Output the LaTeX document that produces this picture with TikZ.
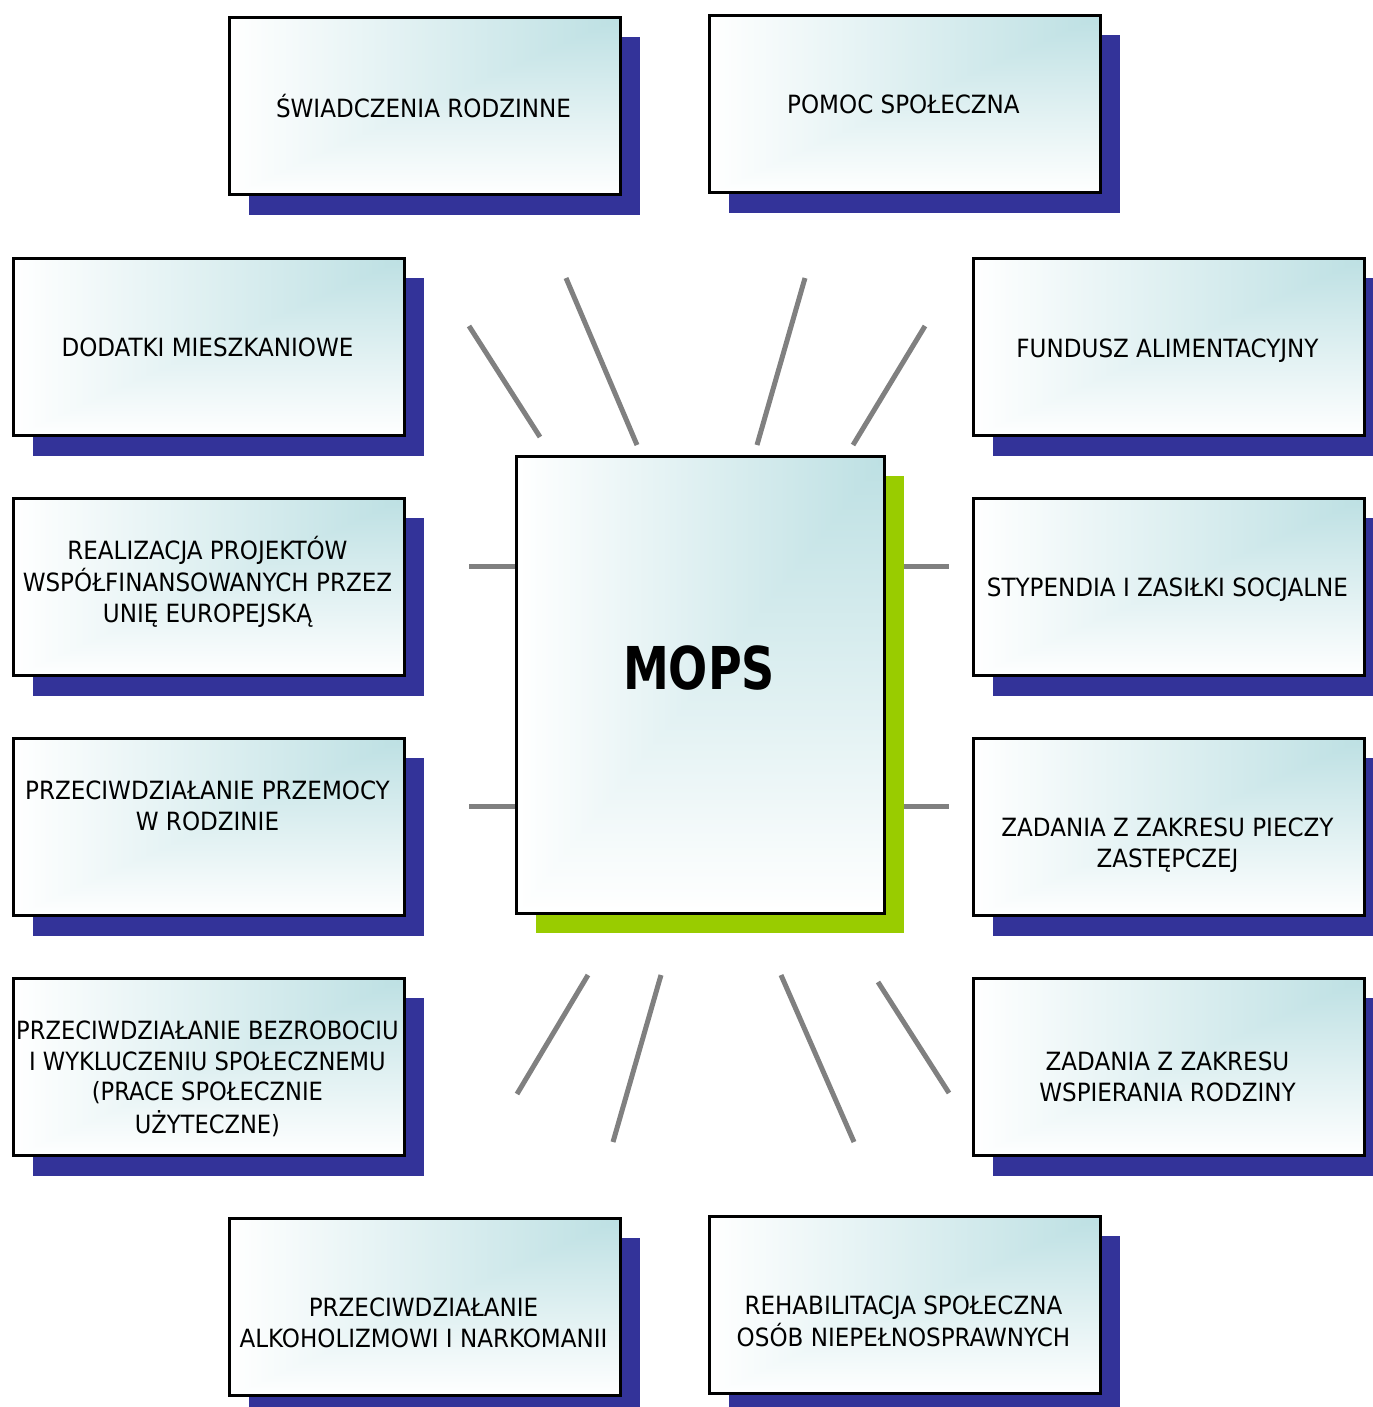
\documentclass[tikz,border=0pt]{standalone}
\usepackage{fontspec}
\usepackage{graphicx}
\setmainfont{DejaVu Sans Condensed}[FakeStretch=1.02]
\usetikzlibrary{shadows}
\definecolor{shblue}{HTML}{333399}
\definecolor{shgreen}{HTML}{99CC00}
\definecolor{spokegray}{HTML}{808080}
\pgfdeclarefunctionalshading{corner}{\pgfpoint{0bp}{0bp}}{\pgfpoint{100bp}{100bp}}{}{
  75 exch sub 50 div
  exch 75 exch sub 50 div
  2 copy lt {exch} if pop
  dup 0 lt {pop 0} if
  dup 1 gt {pop 1} if
  dup 0.259 mul 0.741 add
  exch dup 0.122 mul 0.878 add
  exch 0.110 mul 0.890 add
}
\newcommand\lineblock[1]{\begin{tabular}[t]{@{}c@{}}#1\end{tabular}}
\tikzset{
  box/.style={draw=black, line width=1.6pt, shade, shading=corner, anchor=north west,
    inner sep=0pt, minimum width=7.82cm, minimum height=3.55cm,
    drop shadow={shadow xshift=0.4cm, shadow yshift=-0.4cm, fill=shblue, opacity=1}},
  centerbox/.style={box, minimum width=7.36cm, minimum height=9.14cm,
    drop shadow={shadow xshift=0.4cm, shadow yshift=-0.4cm, fill=shgreen, opacity=1}},
  lbl/.style={anchor=base, inner sep=0pt, font=\fontsize{14.3}{17.64}\selectfont},
  biglbl/.style={anchor=base, inner sep=0pt, font=\fontsize{33.6}{40}\selectfont\bfseries},
  spokeline/.style={draw=spokegray, line width=2.85pt},
}
\begin{document}
\begin{tikzpicture}[x=0.02cm, y=-0.02cm]
\useasboundingbox (0,0) rectangle (1373,1407);

% spokes
\coordinate (s1a) at (469,326);  \coordinate (s1b) at (540,437);
\coordinate (s2a) at (566,278);  \coordinate (s2b) at (637,445);
\coordinate (s3a) at (805,278);  \coordinate (s3b) at (757,445);
\coordinate (s4a) at (925,326);  \coordinate (s4b) at (853,445);
\coordinate (s5a) at (469,566);  \coordinate (s5b) at (517,566);
\coordinate (s6a) at (901,566);  \coordinate (s6b) at (949,566);
\coordinate (s7a) at (469,806);  \coordinate (s7b) at (517,806);
\coordinate (s8a) at (901,806);  \coordinate (s8b) at (949,806);
\coordinate (s9a) at (588,975);  \coordinate (s9b) at (517,1094);
\coordinate (s10a) at (661,975); \coordinate (s10b) at (613,1142);
\coordinate (s11a) at (781,975); \coordinate (s11b) at (854,1142);
\coordinate (s12a) at (878,982); \coordinate (s12b) at (949,1093);
\foreach \i in {1,...,12} {\draw[spokeline] (s\i a) -- (s\i b);}

% boxes
\node[box] (swiad) at (228,16) {};
\node[box] (pomoc) at (708,14) {};
\node[box] (dodatki) at (12,257) {};
\node[box] (fundusz) at (972,257) {};
\node[box] (realiz) at (12,497) {};
\node[box] (stypend) at (972,497) {};
\node[box] (przemoc) at (12,737) {};
\node[box] (piecza) at (972,737) {};
\node[box] (bezrob) at (12,977) {};
\node[box] (wspier) at (972,977) {};
\node[box] (alkohol) at (228,1217) {};
\node[box] (rehab) at (708,1215) {};
\node[centerbox] (mops) at (515,455) {};

% labels
\node[lbl] (tswiad) at (423.5,117) {\lineblock{ŚWIADCZENIA RODZINNE}};
\node[lbl] (tpomoc) at (903.5,113) {\lineblock{POMOC SPOŁECZNA}};
\node[lbl] (tdodatki) at (207.5,356) {\lineblock{DODATKI MIESZKANIOWE}};
\node[lbl] (tfundusz) at (1167.5,357) {\lineblock{FUNDUSZ ALIMENTACYJNY}};
\node[lbl] (trealiz) at (207.5,559) {\lineblock{REALIZACJA PROJEKTÓW\\WSPÓŁFINANSOWANYCH PRZEZ\\UNIĘ EUROPEJSKĄ}};
\node[lbl] (tstypend) at (1167.5,596.5) {\lineblock{STYPENDIA I ZASIŁKI SOCJALNE}};
\node[lbl] (tprzemoc) at (207.5,799.3) {\lineblock{PRZECIWDZIAŁANIE PRZEMOCY\\W RODZINIE}};
\node[lbl] (tpiecza) at (1167.5,836) {\lineblock{ZADANIA Z ZAKRESU PIECZY\\ZASTĘPCZEJ}};
\node[lbl] (tbezrob) at (207.5,1039) {\scalebox{0.98}[1]{\lineblock{PRZECIWDZIAŁANIE BEZROBOCIU\\I WYKLUCZENIU SPOŁECZNEMU\\(PRACE SPOŁECZNIE\\UŻYTECZNE)}}};
\node[lbl] (twspier) at (1167.5,1070) {\lineblock{ZADANIA Z ZAKRESU\\WSPIERANIA RODZINY}};
\node[lbl] (talkohol) at (423.5,1316) {\lineblock{PRZECIWDZIAŁANIE\\ALKOHOLIZMOWI I NARKOMANII}};
\node[lbl] (trehab) at (903.5,1314.3) {\lineblock{REHABILITACJA SPOŁECZNA\\OSÓB NIEPEŁNOSPRAWNYCH}};
\node[biglbl] (tmops) at (699,689) {\scalebox{0.85}[1]{MOPS}};
\end{tikzpicture}
\end{document}
